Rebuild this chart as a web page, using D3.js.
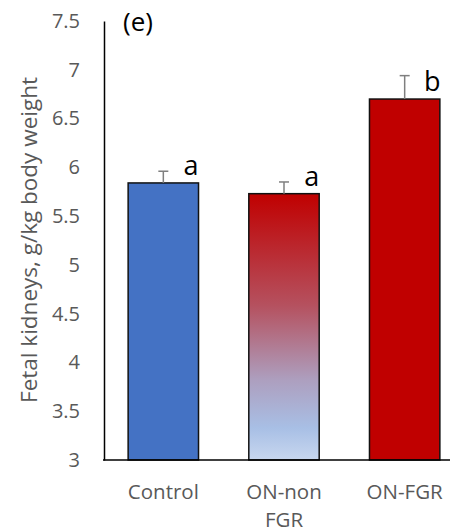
<!DOCTYPE html>
<html>
<head>
<meta charset="utf-8">
<script src="https://cdn.jsdelivr.net/npm/d3@7"></script>
<style>
  html, body { margin: 0; padding: 0; background: #fff; }
  svg { display: block; font-family: "Open Sans", sans-serif; }
</style>
</head>
<body>
<div id="chart"></div>
<script>
// values
const groups = ["Control", "ON-non FGR", "ON-FGR"];
const means = [5.84, 5.73, 6.70];
const errors = [0.12, 0.12, 0.24];
const letters = ["a", "a", "b"];
const yTicks = [3, 3.5, 4, 4.5, 5, 5.5, 6, 6.5, 7, 7.5];

const W = 450, H = 532;
const svg = d3.select("#chart").append("svg")
  .attr("width", W).attr("height", H);

const x = d3.scaleBand().domain(groups).range([104, 464]).paddingInner(0.4167).paddingOuter(0.2);
const y = d3.scaleLinear().domain([3, 7.5]).range([460, 21]);

// gradient for the ON-non FGR bar
const grad = svg.append("defs").append("linearGradient")
  .attr("id", "mixGrad").attr("x1", 0).attr("x2", 0).attr("y1", 0).attr("y2", 1);
[[0, "#c00000"], [0.42, "#b5515f"], [0.7, "#ad9fbf"], [0.88, "#a8bfe5"], [1, "#c8d7ef"]]
  .forEach(([o, c]) => grad.append("stop").attr("offset", o).attr("stop-color", c));

const fills = ["#4472c4", "url(#mixGrad)", "#c00000"];

// y axis
const yAxis = svg.append("g").attr("transform", "translate(104,0)")
  .call(d3.axisLeft(y).tickValues(yTicks).tickSize(0).tickPadding(24).tickFormat(d3.format("")));
yAxis.select(".domain").attr("stroke", "#000").attr("stroke-width", 1.5);
yAxis.selectAll("text").attr("fill", "#595959").attr("font-size", 20)
  .attr("font-family", "'Open Sans', sans-serif");

svg.append("text")
  .attr("transform", `translate(37,240) rotate(-90)`)
  .attr("text-anchor", "middle")
  .attr("font-size", 22.5).attr("fill", "#595959")
  .text("Fetal kidneys, g/kg body weight");

// bars
const g = svg.append("g");
groups.forEach((name, i) => {
  const bx = x(name), bw = x.bandwidth(), cx = bx + bw / 2;
  g.append("rect")
    .attr("x", bx).attr("y", y(means[i]))
    .attr("width", bw).attr("height", y(3) - y(means[i]))
    .attr("fill", fills[i]).attr("stroke", "#111").attr("stroke-width", 1.5);
  // error bar
  g.append("line").attr("x1", cx).attr("x2", cx)
    .attr("y1", y(means[i])).attr("y2", y(means[i] + errors[i]))
    .attr("stroke", "#7f7f7f").attr("stroke-width", 1.5);
  g.append("line").attr("x1", cx - 5).attr("x2", cx + 5)
    .attr("y1", y(means[i] + errors[i])).attr("y2", y(means[i] + errors[i]))
    .attr("stroke", "#7f7f7f").attr("stroke-width", 1.5);
  // significance letter
  g.append("text")
    .attr("x", bx + bw - 7.5).attr("y", y(means[i]) - 8)
    .attr("text-anchor", "middle")
    .attr("font-size", 27).attr("fill", "#000")
    .text(letters[i]);
});

// x axis line
svg.append("line").attr("x1", 103).attr("x2", 450).attr("y1", 460).attr("y2", 460)
  .attr("stroke", "#000").attr("stroke-width", 1.5);

// x labels
const xLabelLines = { "Control": ["Control"], "ON-non FGR": ["ON-non", "FGR"], "ON-FGR": ["ON-FGR"] };
groups.forEach(name => {
  const t = svg.append("text")
    .attr("x", x(name) + x.bandwidth() / 2).attr("y", 499)
    .attr("text-anchor", "middle").attr("font-size", 20.5).attr("fill", "#595959");
  xLabelLines[name].forEach((ln, j) => {
    t.append("tspan").attr("x", x(name) + x.bandwidth() / 2).attr("dy", j ? 28 : 0).text(ln);
  });
});

// panel label
svg.append("text").attr("x", 123).attr("y", 31)
  .attr("font-size", 26).attr("fill", "#000").text("(e)");
</script>
</body>
</html>
